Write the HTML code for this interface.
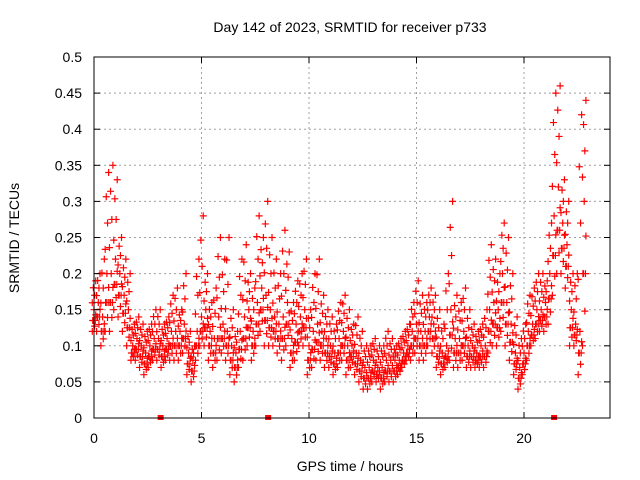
<!DOCTYPE html>
<html><head><meta charset="utf-8"><style>
body{margin:0;background:#fff}
svg{display:block;font-family:"Liberation Sans",sans-serif}
</style></head><body>
<svg id="chart" width="640" height="480">
<text x="350" y="32" font-size="14" text-anchor="middle">Day 142 of 2023, SRMTID for receiver p733</text>
<text x="350" y="471" font-size="14" text-anchor="middle">GPS time / hours</text>
<text transform="translate(19,238) rotate(-90)" font-size="14" text-anchor="middle">SRMTID / TECUs</text>
<g id="grid"></g><g id="marks"></g><g id="axes"></g>
</svg>
<script>
const times=[0,0.2,0.4,0.6,0.8,1,1.2,1.4,1.6,1.8,2,2.2,2.4,2.6,2.8,3,3.2,3.4,3.6,3.8,4,4.2,4.4,4.6,4.8,5,5.2,5.4,5.6,5.8,6,6.2,6.4,6.6,6.8,7,7.2,7.4,7.6,7.8,8,8.2,8.4,8.6,8.8,9,9.2,9.4,9.6,9.8,10,10.2,10.4,10.6,10.8,11,11.2,11.4,11.6,11.8,12,12.2,12.4,12.6,12.8,13,13.2,13.4,13.6,13.8,14,14.2,14.4,14.6,14.8,15,15.2,15.4,15.6,15.8,16,16.2,16.4,16.6,16.8,17,17.2,17.4,17.6,17.8,18,18.2,18.4,18.6,18.8,19,19.2,19.4,19.6,19.8,20,20.2,20.4,20.6,20.8,21,21.2,21.4,21.6,21.8,22,22.2,22.4,22.6,22.8];
const lo=[.12,.12,.10,.12,.12,.15,.14,.12,.10,.08,.08,.07,.06,.07,.08,.08,.07,.08,.08,.08,.08,.09,.06,.05,.08,.10,.10,.08,.07,.08,.09,.08,.06,.05,.07,.08,.10,.08,.10,.12,.10,.10,.10,.09,.08,.10,.07,.08,.10,.10,.06,.07,.08,.08,.07,.07,.06,.07,.08,.06,.07,.06,.05,.04,.04,.05,.05,.04,.05,.05,.05,.06,.07,.08,.08,.09,.08,.08,.10,.09,.07,.06,.07,.08,.07,.07,.08,.07,.07,.07,.07,.07,.09,.10,.10,.12,.10,.08,.06,.04,.06,.08,.10,.11,.12,.12,.13,.17,.20,.20,.18,.10,.10,.06,.10];
const mid=[.15,.16,.14,.20,.20,.22,.20,.17,.15,.10,.11,.10,.09,.10,.11,.11,.10,.11,.12,.12,.12,.13,.09,.08,.12,.14,.15,.12,.11,.14,.13,.12,.10,.09,.12,.14,.15,.12,.16,.18,.17,.15,.14,.13,.14,.16,.11,.13,.14,.15,.10,.12,.13,.12,.11,.10,.09,.11,.12,.10,.10,.09,.08,.07,.07,.08,.07,.07,.08,.08,.08,.08,.09,.10,.12,.13,.12,.12,.14,.13,.10,.09,.10,.15,.11,.11,.12,.10,.10,.09,.10,.10,.15,.16,.15,.20,.16,.13,.09,.07,.09,.12,.13,.15,.15,.16,.20,.28,.32,.27,.24,.15,.13,.12,.30];
const hi=[.19,.20,.22,.34,.35,.33,.25,.22,.20,.13,.14,.13,.12,.13,.15,.15,.13,.14,.17,.18,.15,.20,.12,.10,.22,.28,.20,.16,.18,.25,.22,.25,.15,.12,.22,.24,.20,.18,.28,.25,.30,.25,.22,.20,.26,.23,.16,.19,.20,.22,.15,.20,.22,.17,.15,.14,.13,.16,.17,.15,.13,.14,.12,.10,.10,.11,.10,.10,.12,.11,.10,.11,.12,.13,.16,.19,.17,.16,.18,.17,.15,.13,.20,.30,.17,.16,.18,.15,.13,.12,.13,.15,.24,.22,.20,.27,.25,.20,.14,.11,.13,.17,.18,.20,.20,.19,.27,.45,.46,.33,.30,.20,.20,.42,.44];
const xTicks=[0,5,10,15,20];
const yTicks=[0,0.05,0.1,0.15,0.2,0.25,0.3,0.35,0.4,0.45,0.5];
const yLabels=["0","0.05","0.1","0.15","0.2","0.25","0.3","0.35","0.4","0.45","0.5"];
const NS="http://www.w3.org/2000/svg";
const L=94,R=610,T=57,B=418;
const xs=v=>L+v*(R-L)/24, ys=v=>B-v*(B-T)/0.5;
function mk(tag,attrs,parent){const e=document.createElementNS(NS,tag);for(const k in attrs)e.setAttribute(k,attrs[k]);parent.appendChild(e);return e;}
const grid=document.getElementById('grid'),axes=document.getElementById('axes'),marks=document.getElementById('marks');
yTicks.forEach((v,i)=>{const y=ys(v);
 if(i>0&&i<yTicks.length-1){const g=mk('line',{x1:L,x2:R,y1:y,y2:y,stroke:'#a0a0a0','stroke-dasharray':'2,3'},grid);
 
 }
 const t=mk('line',{x1:L,x2:L+6,y1:y,y2:y,stroke:'#000'},axes);
 const t2=mk('line',{x1:R,x2:R-6,y1:y,y2:y,stroke:'#000'},axes);
 const lb=mk('text',{x:82,y:y+5,'font-size':14,'text-anchor':'end'},axes);lb.textContent=yLabels[i];
 
 });
xTicks.forEach(v=>{const x=xs(v);
 if(v>0){const g=mk('line',{x1:x,x2:x,y1:T,y2:B,stroke:'#a0a0a0','stroke-dasharray':'2,3'},grid);
 
 }
 const t=mk('line',{x1:x,x2:x,y1:B,y2:B-6,stroke:'#000'},axes);
 const t2=mk('line',{x1:x,x2:x,y1:T,y2:T+6,stroke:'#000'},axes);
 const lb=mk('text',{x:x,y:443,'font-size':14,'text-anchor':'middle'},axes);lb.textContent=String(v);
 
 });
const fr=mk('rect',{x:L,y:T,width:R-L,height:B-T,fill:'none',stroke:'#000'},axes);


let d='';
const offs=[-0.08,0.03,-0.03,0.08,0];
const fracs=[0,0.12,0.25,0.38,0.5,0.62,0.75,0.88,1];
times.forEach((t,i)=>{
 fracs.forEach((f,j)=>{
  const v=f<=0.5?lo[i]+(mid[i]-lo[i])*f*2:mid[i]+(hi[i]-mid[i])*(f-0.5)*2;
  const x=xs(t+offs[j%5]),y=ys(v);
  d+=`M${x-3.5} ${y}h7M${x} ${y-3.5}v7`;});
 const v2=(lo[i]+mid[i])/2;
 [-0.06,0.06].forEach(o=>{const x=xs(t+o),y=ys(v2);d+=`M${x-3.5} ${y}h7M${x} ${y-3.5}v7`;});});
const p=mk('path',{d:d,stroke:'#f00','stroke-width':1.2,fill:'none'},marks);


[3.1,8.1,21.4].forEach(t=>{const r=mk('rect',{x:xs(t)-3,y:B-3,width:6,height:5,fill:'#f00'},marks);
 
 });
</script>
</body></html>
